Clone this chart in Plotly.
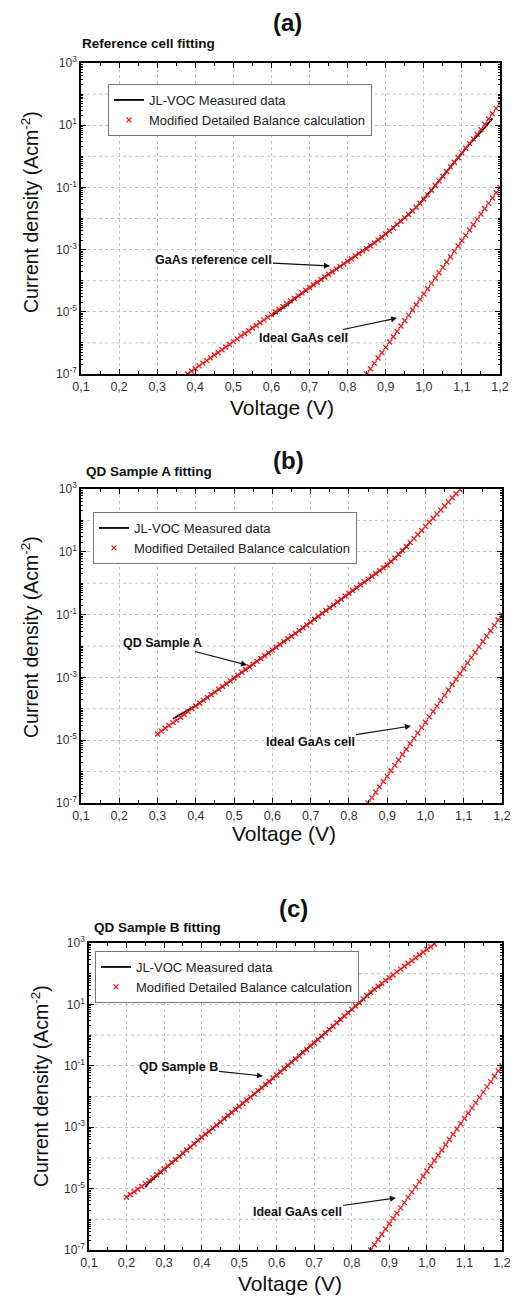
import plotly.graph_objects as go

W, H = 518, 1296      # target picture size
OFF = 8               # default page (body) margin in front of the plot div
FW, FH = W - OFF, H - OFF

# ---------------- data ----------------
v_ref_model = [0.38, 0.39, 0.40, 0.41, 0.42, 0.43, 0.44, 0.45, 0.46, 0.47,
               0.48, 0.49, 0.50, 0.51, 0.52, 0.53, 0.54, 0.55, 0.56, 0.57,
               0.58, 0.59, 0.60, 0.61, 0.62, 0.63, 0.64, 0.65, 0.66, 0.67,
               0.68, 0.69, 0.70, 0.71, 0.72, 0.73, 0.74, 0.75, 0.76, 0.77,
               0.78, 0.79, 0.80, 0.81, 0.82, 0.83, 0.84, 0.85, 0.86, 0.87,
               0.88, 0.89, 0.90, 0.91, 0.92, 0.93, 0.94, 0.95, 0.96, 0.97,
               0.98, 0.99, 1.00, 1.01, 1.02, 1.03, 1.04, 1.05, 1.06, 1.07,
               1.08, 1.09, 1.10, 1.11, 1.12, 1.13, 1.14, 1.15, 1.16, 1.17,
               1.18, 1.19, 1.20]
j_ref_model = [1.00e-7, 1.23e-7, 1.48e-7, 1.82e-7, 2.24e-7, 2.69e-7, 3.31e-7, 4.07e-7, 4.90e-7, 6.03e-7,
               7.41e-7, 8.91e-7, 1.10e-6, 1.35e-6, 1.66e-6, 2.00e-6, 2.45e-6, 3.02e-6, 3.63e-6, 4.47e-6,
               5.50e-6, 6.61e-6, 8.13e-6, 1.00e-5, 1.20e-5, 1.48e-5, 1.82e-5, 2.24e-5, 2.69e-5, 3.31e-5,
               4.07e-5, 4.90e-5, 6.03e-5, 7.41e-5, 8.91e-5, 1.10e-4, 1.32e-4, 1.62e-4, 1.95e-4, 2.40e-4,
               2.88e-4, 3.47e-4, 4.17e-4, 5.01e-4, 6.17e-4, 7.41e-4, 8.91e-4, 1.07e-3, 1.32e-3, 1.62e-3,
               2.04e-3, 2.51e-3, 3.16e-3, 3.98e-3, 5.01e-3, 6.46e-3, 8.13e-3, 1.05e-2, 1.35e-2, 1.74e-2,
               2.29e-2, 3.09e-2, 4.17e-2, 5.75e-2, 8.13e-2, 0.115, 0.162, 0.229, 0.324, 0.457,
               0.646, 0.912, 1.29, 1.82, 2.57, 3.63, 5.13, 7.24, 10.7, 15.8,
               23.4, 34.7, 51.3]

v_ref_meas = [0.60, 0.62, 0.64, 0.66, 0.68, 0.70, 0.72, 0.74, 0.76, 0.78,
              0.80, 0.82, 0.84, 0.86, 0.88, 0.90, 0.92, 0.94, 0.96, 0.98,
              1.00, 1.02, 1.04, 1.06, 1.08, 1.10, 1.12, 1.14, 1.16, 1.18]
j_ref_meas = [7.41e-6, 1.07e-5, 1.62e-5, 2.57e-5, 3.98e-5, 6.03e-5, 8.91e-5, 1.32e-4, 1.95e-4, 2.88e-4,
              4.17e-4, 6.17e-4, 8.91e-4, 1.32e-3, 2.04e-3, 3.16e-3, 5.01e-3, 8.13e-3, 1.35e-2, 2.29e-2,
              4.17e-2, 8.13e-2, 0.162, 0.324, 0.646, 1.29, 2.51, 4.57, 8.32, 16.6]

v_ideal = [0.85, 0.86, 0.87, 0.88, 0.89, 0.90, 0.91, 0.92, 0.93, 0.94,
           0.95, 0.96, 0.97, 0.98, 0.99, 1.00, 1.01, 1.02, 1.03, 1.04,
           1.05, 1.06, 1.07, 1.08, 1.09, 1.10, 1.11, 1.12, 1.13, 1.14,
           1.15, 1.16, 1.17, 1.18, 1.19, 1.20]
j_ideal = [1.00e-7, 1.48e-7, 2.20e-7, 3.27e-7, 4.85e-7, 7.19e-7, 1.07e-6, 1.58e-6, 2.35e-6, 3.49e-6,
           5.18e-6, 7.69e-6, 1.14e-5, 1.69e-5, 2.51e-5, 3.73e-5, 5.53e-5, 8.21e-5, 1.22e-4, 1.81e-4,
           2.68e-4, 3.98e-4, 5.91e-4, 8.77e-4, 1.30e-3, 1.93e-3, 2.86e-3, 4.26e-3, 6.31e-3, 9.36e-3,
           1.39e-2, 2.06e-2, 3.06e-2, 4.54e-2, 6.74e-2, 1.00e-1]

v_a_model = [0.30, 0.31, 0.32, 0.33, 0.34, 0.35, 0.36, 0.37, 0.38, 0.39,
             0.40, 0.41, 0.42, 0.43, 0.44, 0.45, 0.46, 0.47, 0.48, 0.49,
             0.50, 0.51, 0.52, 0.53, 0.54, 0.55, 0.56, 0.57, 0.58, 0.59,
             0.60, 0.61, 0.62, 0.63, 0.64, 0.65, 0.66, 0.67, 0.68, 0.69,
             0.70, 0.71, 0.72, 0.73, 0.74, 0.75, 0.76, 0.77, 0.78, 0.79,
             0.80, 0.81, 0.82, 0.83, 0.84, 0.85, 0.86, 0.87, 0.88, 0.89,
             0.90, 0.91, 0.92, 0.93, 0.94, 0.95, 0.96, 0.97, 0.98, 0.99,
             1.00, 1.01, 1.02, 1.03, 1.04, 1.05, 1.06, 1.07, 1.08, 1.09]
j_a_model = [1.58e-5, 1.95e-5, 2.40e-5, 2.95e-5, 3.63e-5, 4.37e-5, 5.37e-5, 6.61e-5, 8.13e-5, 1.00e-4,
             1.23e-4, 1.51e-4, 1.86e-4, 2.29e-4, 2.82e-4, 3.39e-4, 4.17e-4, 5.13e-4, 6.31e-4, 7.76e-4,
             9.55e-4, 1.17e-3, 1.45e-3, 1.78e-3, 2.19e-3, 2.63e-3, 3.24e-3, 3.98e-3, 4.90e-3, 6.03e-3,
             7.41e-3, 9.12e-3, 1.12e-2, 1.38e-2, 1.70e-2, 2.04e-2, 2.51e-2, 3.09e-2, 3.80e-2, 4.68e-2,
             5.75e-2, 7.08e-2, 8.91e-2, 0.110, 0.135, 0.166, 0.204, 0.251, 0.309, 0.389,
             0.479, 0.589, 0.724, 0.891, 1.10, 1.35, 1.66, 2.04, 2.51, 3.09,
             3.80, 4.90, 6.31, 8.32, 11.0, 14.8, 20.0, 26.3, 35.5, 47.9,
             64.6, 87.1, 117, 158, 214, 288, 389, 525, 708, 955]

v_a_meas = [0.34, 0.36, 0.38, 0.40, 0.42, 0.44, 0.46, 0.48, 0.50, 0.52,
            0.54, 0.56, 0.58, 0.60, 0.62, 0.64, 0.66, 0.68, 0.70, 0.72,
            0.74, 0.76, 0.78, 0.80, 0.82, 0.84, 0.86, 0.88, 0.90, 0.92,
            0.94, 0.96]
j_a_meas = [4.79e-5, 6.76e-5, 9.12e-5, 1.26e-4, 1.86e-4, 2.82e-4, 4.17e-4, 6.31e-4, 9.55e-4, 1.45e-3,
            2.19e-3, 3.24e-3, 4.90e-3, 7.41e-3, 1.12e-2, 1.70e-2, 2.51e-2, 3.80e-2, 5.75e-2, 8.91e-2,
            0.135, 0.204, 0.309, 0.479, 0.724, 1.10, 1.66, 2.51, 3.80, 6.31,
            11.0, 19.1]

v_b_model = [0.20, 0.21, 0.22, 0.23, 0.24, 0.25, 0.26, 0.27, 0.28, 0.29,
             0.30, 0.31, 0.32, 0.33, 0.34, 0.35, 0.36, 0.37, 0.38, 0.39,
             0.40, 0.41, 0.42, 0.43, 0.44, 0.45, 0.46, 0.47, 0.48, 0.49,
             0.50, 0.51, 0.52, 0.53, 0.54, 0.55, 0.56, 0.57, 0.58, 0.59,
             0.60, 0.61, 0.62, 0.63, 0.64, 0.65, 0.66, 0.67, 0.68, 0.69,
             0.70, 0.71, 0.72, 0.73, 0.74, 0.75, 0.76, 0.77, 0.78, 0.79,
             0.80, 0.81, 0.82, 0.83, 0.84, 0.85, 0.86, 0.87, 0.88, 0.89,
             0.90, 0.91, 0.92, 0.93, 0.94, 0.95, 0.96, 0.97, 0.98, 0.99,
             1.00, 1.01, 1.02]
j_b_model = [5.25e-6, 6.46e-6, 7.94e-6, 9.55e-6, 1.17e-5, 1.45e-5, 1.82e-5, 2.24e-5, 2.82e-5, 3.47e-5,
             4.37e-5, 5.50e-5, 7.08e-5, 8.91e-5, 1.12e-4, 1.41e-4, 1.82e-4, 2.29e-4, 2.88e-4, 3.72e-4,
             4.68e-4, 5.89e-4, 7.41e-4, 9.33e-4, 1.17e-3, 1.48e-3, 1.91e-3, 2.40e-3, 3.02e-3, 3.80e-3,
             4.79e-3, 6.03e-3, 7.59e-3, 9.55e-3, 1.20e-2, 1.55e-2, 1.95e-2, 2.45e-2, 3.09e-2, 3.98e-2,
             5.01e-2, 6.31e-2, 8.13e-2, 0.102, 0.132, 0.166, 0.209, 0.269, 0.339, 0.437,
             0.550, 0.708, 0.912, 1.17, 1.51, 1.95, 2.51, 3.24, 4.17, 5.37,
             6.92, 8.91, 11.5, 15.1, 19.5, 25.1, 30.9, 38.9, 47.9, 60.3,
             74.1, 91.2, 115, 141, 174, 214, 263, 331, 407, 501,
             617, 759, 933]

v_b_meas = [0.25, 0.26, 0.28, 0.30, 0.32, 0.34, 0.36, 0.38, 0.40, 0.42,
            0.44, 0.46, 0.48, 0.50, 0.52, 0.54, 0.56, 0.58, 0.60, 0.62,
            0.64, 0.66, 0.68, 0.70, 0.72, 0.74, 0.76, 0.78, 0.80, 0.82,
            0.84, 0.86, 0.88]
j_b_meas = [1.12e-5, 1.58e-5, 2.63e-5, 4.27e-5, 7.08e-5, 1.12e-4, 1.82e-4, 2.88e-4, 4.68e-4, 7.41e-4,
            1.17e-3, 1.91e-3, 3.02e-3, 4.79e-3, 7.59e-3, 1.20e-2, 1.95e-2, 3.09e-2, 5.01e-2, 8.13e-2,
            0.132, 0.209, 0.339, 0.550, 0.912, 1.51, 2.51, 4.17, 6.92, 11.5,
            19.5, 30.9, 45.7]

x_tick_vals = [0.1, 0.2, 0.3, 0.4, 0.5, 0.6, 0.7, 0.8, 0.9, 1.0, 1.1, 1.2]
x_tick_text = ["0,1", "0,2", "0,3", "0,4", "0,5", "0,6", "0,7", "0,8", "0,9", "1,0", "1,1", "1,2"]
x_minor_vals = [0.15, 0.25, 0.35, 0.45, 0.55, 0.65, 0.75, 0.85, 0.95, 1.05, 1.15]
y_tick_vals = [1e-7, 1e-5, 1e-3, 1e-1, 1e1, 1e3]
y_tick_text = ["10<sup>-7</sup>", "10<sup>-5</sup>", "10<sup>-3</sup>",
               "10<sup>-1</sup>", "10<sup>1</sup>", "10<sup>3</sup>"]
y_even_decades = [-6, -4, -2, 0, 2]

panel_labels = ["(a)", "(b)", "(c)"]
panel_titles = ["Reference cell fitting", "QD Sample A fitting", "QD Sample B fitting"]
sample_labels = ["GaAs reference cell", "QD Sample A", "QD Sample B"]
legend_names = ["JL-VOC Measured data", "Modified Detailed Balance calculation"]

# ---------------- layout geometry (target-picture pixels) ----------------
FONT = "Liberation Sans, Arial, sans-serif"
RED = "#f01818"
GRID = "#c4c4c4"


def px(x):
    return (x - OFF) / FW


def py(y):
    return 1 - (y - OFF) / FH


# plot rectangles: left, right, top, bottom
rects = [(81, 500, 63, 374), (81, 502, 489, 803), (89, 502, 943, 1250)]
legend_pos = [(108, 84), (93, 512), (95, 951)]

panels = [
    (v_ref_meas, j_ref_meas, v_ref_model, j_ref_model),
    (v_a_meas, j_a_meas, v_a_model, j_a_model),
    (v_b_meas, j_b_meas, v_b_model, j_b_model),
]

fig = go.Figure()
layout = dict(
    template="none",
    width=FW, height=FH, margin=dict(l=0, r=0, t=0, b=0, pad=0, autoexpand=False),
    paper_bgcolor="white", plot_bgcolor="white",
    font=dict(family=FONT, color="#222"),
    annotations=[], shapes=[],
)

minor_y = sorted([m * 10.0 ** e for e in range(-7, 3) for m in range(2, 10)]
                 + [10.0 ** e for e in y_even_decades])

for i, (vm, jm, vd, jd) in enumerate(panels):
    sfx = "" if i == 0 else str(i + 1)
    xa, ya = "x" + sfx, "y" + sfx
    lg = "legend" + sfx
    fig.add_trace(go.Scatter(x=vm, y=jm, mode="lines", name=legend_names[0],
                             line=dict(color="black", width=1.8),
                             xaxis=xa, yaxis=ya, legend=lg))
    fig.add_trace(go.Scatter(x=vd, y=jd, mode="markers", name=legend_names[1],
                             marker=dict(symbol="x-thin", size=5,
                                         line=dict(color=RED, width=1.3)),
                             xaxis=xa, yaxis=ya, legend=lg))
    fig.add_trace(go.Scatter(x=v_ideal, y=j_ideal, mode="markers", showlegend=False,
                             marker=dict(symbol="x-thin", size=5,
                                         line=dict(color=RED, width=1.3)),
                             xaxis=xa, yaxis=ya))
    l, r, t, b = rects[i]
    axis_common = dict(showline=True, linecolor="black", linewidth=1.5, mirror="ticks",
                       ticks="inside", ticklen=5, tickwidth=1.2, tickcolor="black",
                       showgrid=True, gridcolor=GRID, griddash="dot", gridwidth=1,
                       zeroline=False, automargin=False,
                       tickfont=dict(family=FONT, size=12.5, color="#333"))
    layout["xaxis" + sfx] = dict(
        axis_common, domain=[px(l), px(r)], anchor=ya, range=[0.1, 1.2],
        tickmode="array", tickvals=x_tick_vals, ticktext=x_tick_text,
        minor=dict(tickmode="array", tickvals=x_minor_vals,
                   ticks="inside", ticklen=3, tickcolor="black", showgrid=False),
    )
    layout["yaxis" + sfx] = dict(
        axis_common, domain=[py(b), py(t)], anchor=xa, type="log", range=[-7, 3],
        tickmode="array", tickvals=y_tick_vals, ticktext=y_tick_text,
        tickfont=dict(family=FONT, size=12, color="#333"),
        minor=dict(tickmode="array", tickvals=minor_y, ticks="inside", ticklen=2.5,
                   tickcolor="black", showgrid=False),
    )
    # dotted gridlines at the unlabeled (even) decades
    for e in y_even_decades:
        ypix = b - (e + 7) / 10.0 * (b - t)
        layout["shapes"].append(dict(type="line", xref="paper", yref="paper",
                                     x0=px(l), x1=px(r), y0=py(ypix), y1=py(ypix),
                                     line=dict(color=GRID, width=1, dash="dot"),
                                     layer="below"))
    lx, ly = legend_pos[i]
    layout[lg] = dict(x=px(lx), y=py(ly), xanchor="left", yanchor="top",
                      bgcolor="white", bordercolor="#777", borderwidth=1,
                      font=dict(family=FONT, size=13, color="#222"),
                      tracegroupgap=0, itemwidth=30)

ann = layout["annotations"]
# panel labels and titles
for (txt, x, y) in zip(panel_labels, [287, 288, 293], [22, 461, 908]):
    ann.append(dict(text="<b>" + txt + "</b>", x=px(x), y=py(y), xref="paper", yref="paper",
                    showarrow=False, font=dict(family=FONT, size=24, color="#111"),
                    xanchor="center", yanchor="middle"))
for (txt, x, y) in zip(panel_titles, [80, 84, 92], [43, 471, 927]):
    ann.append(dict(text="<b>" + txt + "</b>", x=px(x), y=py(y), xref="paper", yref="paper",
                    showarrow=False, font=dict(family=FONT, size=13.5, color="#111"),
                    xanchor="left", yanchor="middle"))
# axis titles
for (x, y) in [(30, 212), (30, 637), (40, 1086)]:
    ann.append(dict(text="Current density (Acm<sup>-2</sup>)", x=px(x), y=py(y),
                    xref="paper", yref="paper", showarrow=False, textangle=-90,
                    font=dict(family=FONT, size=19.5, color="#111"),
                    xanchor="center", yanchor="middle"))
for (x, y) in [(282, 408), (284, 833), (290, 1283)]:
    ann.append(dict(text="Voltage (V)", x=px(x), y=py(y), xref="paper", yref="paper",
                    showarrow=False, font=dict(family=FONT, size=21, color="#111"),
                    xanchor="center", yanchor="middle"))
# arrow labels: (text, tip_x, tip_y, text_center_x, text_center_y)
arrows = [
    (sample_labels[0], 330, 266, 213, 260),
    ("Ideal GaAs cell", 397, 318, 303, 338),
    (sample_labels[1], 247, 665, 162, 643),
    ("Ideal GaAs cell", 411, 726, 310, 742),
    (sample_labels[2], 263, 1076, 178, 1067),
    ("Ideal GaAs cell", 396, 1198, 297, 1212),
]
for (txt, tx, ty, cx, cy) in arrows:
    ann.append(dict(text="<b>" + txt + "</b>", x=px(tx), y=py(ty), xref="paper", yref="paper",
                    ax=cx - tx, ay=cy - ty, showarrow=True, arrowhead=2, arrowsize=1,
                    arrowwidth=1.2, arrowcolor="#111",
                    font=dict(family=FONT, size=12.5, color="#111")))

fig.update_layout(**layout)
fig.write_html("out.html")
